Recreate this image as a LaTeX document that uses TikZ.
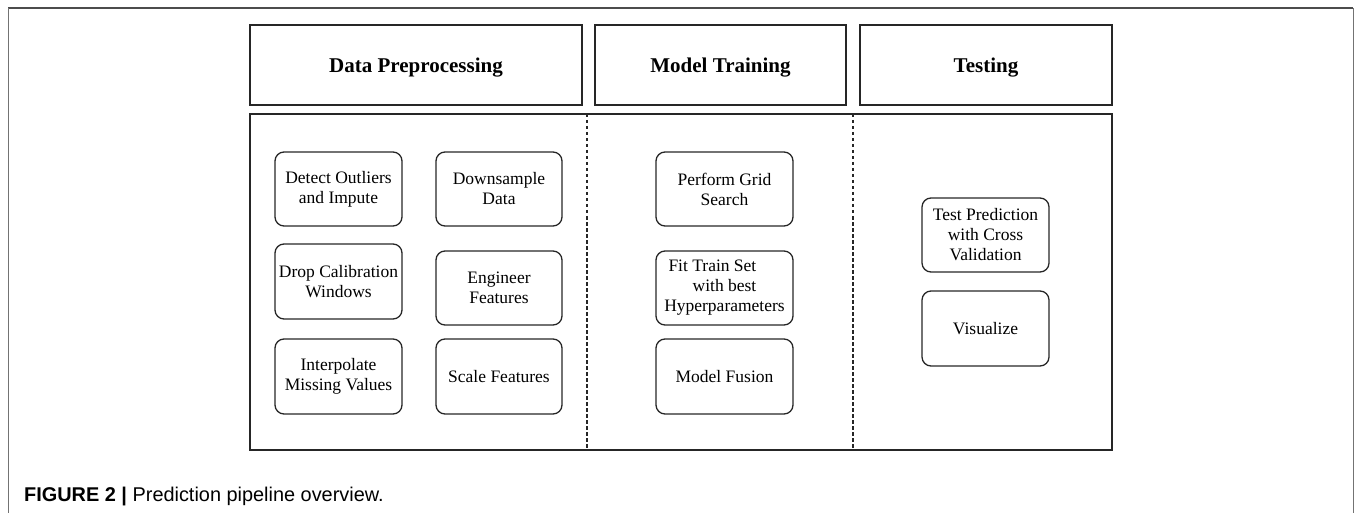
\documentclass[tikz,border=0pt]{standalone}
\usepackage{fontspec}
\setmainfont{Liberation Serif}
\newfontfamily\capfont{Liberation Sans}
\begin{document}
\begin{tikzpicture}[x=1pt,y=-1pt,
  header/.style={draw=black!85,line width=1.4pt,minimum height=80pt,inner sep=0pt,
    text height=16pt,text depth=0pt,
    font=\fontsize{21}{24}\selectfont\bfseries},
  stepbox/.style={draw=black!85,line width=1.3pt,rounded corners=9pt,minimum height=74pt,
    inner sep=0pt,align=center,font=\fontsize{17.5}{20}\selectfont},
  divider/.style={draw=black!85,line width=1.4pt,dash pattern=on 3.5pt off 2.5pt},
  frameline/.style={draw=black!55,line width=1pt}]
\useasboundingbox (0,0) rectangle (1354,513);
% outer frame
\coordinate (ftl) at (8,8.5);
\coordinate (ftr) at (1353,8.5);
\coordinate (fbl) at (8,513);
\coordinate (fbr) at (1353,513);
\draw[draw=black!70,line width=2pt] (ftl) -- (ftr);
\draw[frameline] (ftl) -- (fbl);
\draw[frameline] (ftr) -- (fbr);
% headers
\node[header,minimum width=332pt] (h1) at (416,65) {Data Preprocessing};
\node[header,minimum width=251pt] (h2) at (720.5,65) {Model Training};
\node[header,minimum width=252pt] (h3) at (986,65) {Testing};
% main box
\node[draw=black!85,line width=1.4pt,minimum width=862pt,minimum height=336pt,inner sep=0pt] (main) at (681,282) {};
\coordinate (d1t) at (587,114);
\coordinate (d1b) at (587,450);
\coordinate (d2t) at (853,114);
\coordinate (d2b) at (853,450);
\draw[divider] (d1t) -- (d1b);
\draw[divider] (d2t) -- (d2b);
% data preprocessing
\node[stepbox,minimum width=127pt] (a1) at (338.5,189) {Detect Outliers\\and Impute};
\node[stepbox,minimum width=127pt,minimum height=75pt] (a2) at (338.5,281.5) {Drop Calibration\\Windows};
\node[stepbox,minimum width=127pt,minimum height=75pt] (a3) at (338.5,376.5) {Interpolate\\Missing Values};
\node[stepbox,minimum width=126pt] (b1) at (499,189) {Downsample\\Data};
\node[stepbox,minimum width=126pt] (b2) at (499,288) {Engineer\\Features};
\node[stepbox,minimum width=126pt,minimum height=75pt] (b3) at (499,376.5) {Scale Features};
% model training
\node[stepbox,minimum width=137pt] (m1) at (724.5,189) {Perform Grid\\Search};
\node[stepbox,minimum width=137pt] (m2) at (724.5,288) {\hbox to 112pt{Fit Train Set\hfil}\\with best\\Hyperparameters};
\node[stepbox,minimum width=137pt,minimum height=75pt] (m3) at (724.5,376.5) {Model Fusion};
% testing
\node[stepbox,minimum width=127pt] (t1) at (985.5,235) {Test Prediction\\with Cross\\Validation};
\node[stepbox,minimum width=127pt,minimum height=75pt] (t2) at (985.5,328.5) {Visualize};
% caption
\node[anchor=base west,inner sep=0pt,font=\capfont\fontsize{19.9}{22}\selectfont] (cap) at (24,501)
  {\textbf{FIGURE 2 |} Prediction pipeline overview.};
\end{tikzpicture}
\end{document}
